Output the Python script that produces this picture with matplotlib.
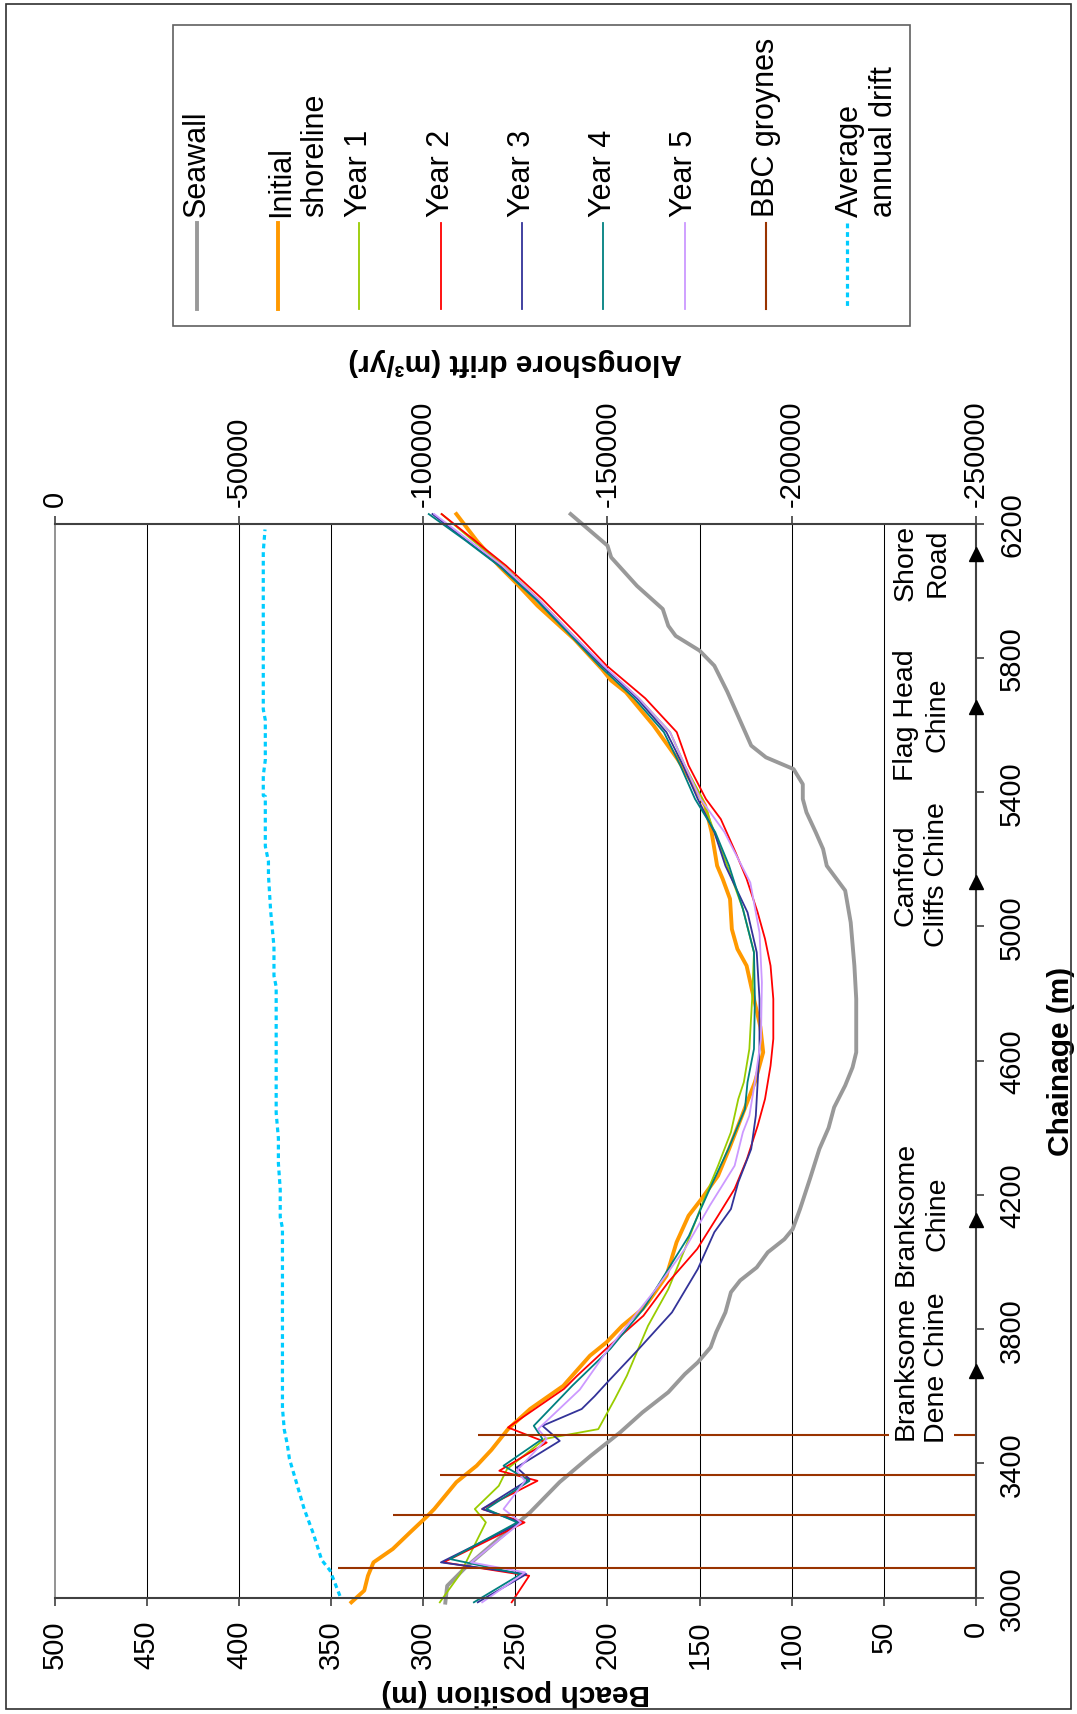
import numpy as np
import matplotlib
matplotlib.use('Agg')
import matplotlib.pyplot as plt
from matplotlib.patches import Rectangle
from matplotlib.ticker import FuncFormatter

plt.rcParams['font.family'] = ['Liberation Sans', 'DejaVu Sans']
plt.rcParams['axes.unicode_minus'] = False

# --- beach position (m) against chainage (m) ---
seawall_ch = [2985, 3035, 3090, 3175, 3254, 3344, 3423, 3493, 3552, 3612, 3666, 3701, 3746, 3791,
              3850, 3910, 3945, 3984, 4029, 4068, 4098, 4158, 4250, 4337, 4400, 4461, 4526, 4580,
              4625, 4784, 4883, 5012, 5107, 5181, 5231, 5281, 5340, 5380, 5424, 5469, 5504, 5539,
              5638, 5700, 5777, 5822, 5866, 5896, 5946, 6015, 6100, 6135, 6229]
seawall = [288, 287, 277, 259, 242, 226, 209, 193, 181, 167, 158, 151, 144, 141,
           136, 133, 128, 119, 113, 104, 99.5, 95.5, 90, 85, 80, 77, 71, 67,
           65, 65, 66, 68, 71, 81, 83, 87, 92, 94, 94, 99, 114, 122,
           130, 135, 142, 150, 163, 167, 170, 184, 198, 200, 220]

initial_ch = [2986, 3021, 3065, 3105, 3145, 3195, 3239, 3264, 3344, 3393, 3440, 3502, 3562, 3631,
              3721, 3761, 3810, 3860, 3880, 3959, 4059, 4138, 4188, 4257, 4337, 4436, 4536, 4565,
              4625, 4700, 4784, 4883, 4933, 4992, 5082, 5142, 5181, 5281, 5360, 5410, 5499, 5599,
              5698, 5733, 5767, 5856, 5956, 6026, 6075, 6100, 6150, 6229]
initial = [339, 332, 330, 327, 316.5, 307, 298.5, 294, 282, 271, 263, 254, 242, 224,
           209.5, 200.5, 192, 181, 178, 168, 162.5, 156, 149, 140, 134, 127, 120, 118.5,
           115.5, 117, 120.5, 124.5, 129.5, 132.5, 133.5, 137.5, 140.5, 143.5, 147, 152, 162, 175,
           190, 198, 203, 218, 238, 250, 259, 263, 271, 282]

year1_ch = [2986, 3070, 3224, 3264, 3333, 3383, 3473, 3502, 3592, 3661, 3810, 3919, 4039, 4168,
            4287, 4387, 4486, 4536, 4635, 4685, 4784, 4923, 5052, 5181, 5281, 5380, 5480, 5579,
            5680, 5777, 5870, 5976, 6075, 6150, 6229]
year1 = [291, 280, 266, 272, 259, 254.5, 234, 205, 196, 189.5, 178, 167, 158, 149,
         140, 133, 129, 126, 123, 122.5, 121.5, 120.5, 126.5, 135, 142, 148.5, 158, 166,
         183, 202.5, 219, 237.5, 256.5, 273, 290]

year2_ch = [2986, 3065, 3105, 3224, 3264, 3348, 3378, 3462, 3507, 3622, 3661, 3741, 3840, 3940,
            4039, 4138, 4218, 4307, 4406, 4486, 4585, 4665, 4784, 4883, 4963, 5042, 5142, 5221,
            5320, 5380, 5480, 5579, 5680, 5777, 5870, 5976, 6075, 6150, 6229]
year2 = [252, 242.5, 289, 245, 268, 238, 258.7, 233, 254, 223.6, 216.5, 200.8, 180.5, 167,
         151.3, 140, 131, 124.3, 118.5, 114.5, 111.5, 110, 110, 111.5, 114.5, 118.5, 124.5, 130.5,
         138.5, 146.6, 156, 162.4, 179.5, 200.4, 216.4, 235.4, 255, 272, 290]

year3_ch = [2986, 3070, 3105, 3224, 3264, 3353, 3388, 3467, 3512, 3562, 3600, 3642, 3741, 3850,
            3979, 4089, 4158, 4238, 4337, 4436, 4635, 4784, 4923, 5042, 5181, 5281, 5380, 5480,
            5579, 5680, 5777, 5870, 5976, 6075, 6150, 6229]
year3 = [270.4, 244, 290.4, 247, 268, 242.3, 249.3, 225.9, 235.3, 214, 207, 200, 183, 165,
         151, 142, 133, 129, 122, 119.5, 117.5, 117.5, 119, 124, 136, 142, 151, 159,
         168, 184, 203, 220, 238.5, 258.5, 276.5, 295]

year4_ch = [2986, 3070, 3115, 3224, 3264, 3348, 3393, 3473, 3512, 3632, 3741, 3860, 3959, 4078,
            4218, 4337, 4456, 4536, 4635, 4784, 4923, 5052, 5181, 5281, 5380, 5480, 5579, 5680,
            5777, 5870, 5976, 6075, 6150, 6229]
year4 = [272.5, 247, 285.5, 249, 265.7, 242.3, 256.4, 235.3, 240, 219, 198.5, 180.5, 169.3, 155.8,
         144.5, 134.4, 125.4, 124, 120.5, 120, 120.5, 126.5, 134, 141.5, 152.5, 160.5, 169.4, 185.5,
         204.4, 220.5, 239.3, 259, 277, 297]

year5_ch = [2986, 3075, 3105, 3224, 3264, 3348, 3378, 3473, 3502, 3620, 3731, 3810, 3919, 4039,
            4168, 4287, 4387, 4436, 4536, 4665, 4834, 4982, 5131, 5281, 5380, 5480, 5579, 5680,
            5777, 5870, 5976, 6075, 6150, 6229]
year5 = [268, 244.7, 274, 247, 256.4, 244.7, 249.3, 233, 237.7, 215, 200.8, 189.5, 173.8, 158,
         144.5, 131, 126.5, 123, 120, 116.7, 116.2, 117.5, 122.5, 136.5, 149.5, 158, 166, 183,
         202, 219, 237.5, 257, 275, 294]

# groyne chainage and crest position
groyne_ch = [3088, 3246, 3365, 3485]
groyne_top = [346.5, 316.5, 291, 270.4]

# --- alongshore drift (m3/yr) ---
drift_ch = [3005, 3081, 3112, 3190, 3264, 3339, 3413, 3458, 3500, 3565, 4101, 4134, 4217, 4294,
            4369, 4444, 4820, 4853, 4940, 5046, 5153, 5194, 5239, 5388, 5390, 5450, 5496, 5615,
            5647, 6118, 6183]
drift = [-77400, -74700, -72450, -70200, -67700, -65700, -63700, -63100, -62300, -61800, -61800,
         -61200, -61200, -60700, -60700, -60100, -60100, -59500, -59500, -58600, -58000, -58000,
         -57150, -57150, -56600, -56600, -57150, -57150, -56600, -56600, -57070]

# chines along the frontage
site_names = ['Branksome\nDene Chine', 'Branksome\nChine', 'Canford\nCliffs Chine',
              'Flag Head\nChine', 'Shore\nRoad']
site_ch = [3676, 4125, 5132, 5653, 6110]
site_label_ch = [3687, 4146, 5157, 5633, 6086]

st = {
    'Seawall': dict(color='#999999', lw=2.8),
    'Initial\nshoreline': dict(color='#ff9900', lw=2.8),
    'Year 1': dict(color='#99cc00', lw=1.3),
    'Year 2': dict(color='#ff0000', lw=1.3),
    'Year 3': dict(color='#333399', lw=1.3),
    'Year 4': dict(color='#008080', lw=1.3),
    'Year 5': dict(color='#cc99ff', lw=1.3),
    'BBC groynes': dict(color='#993300', lw=1.5),
    'Average\nannual drift': dict(color='#00ccff', lw=2.3, ls=(0, (1.5, 1.2)), dash_capstyle='butt'),
}
FS = 21
AXC = '#404040'

fig = plt.figure(figsize=(10.77, 17.15), dpi=100)
ax = fig.add_axes([54.7 / 1077, 1 - 1598.6 / 1715, 921.3 / 1077, 1073.8 / 1715])

for x in range(50, 500, 50):
    ax.axvline(x, color='black', lw=0.75, zorder=0.5)

ax.plot(seawall, seawall_ch, **st['Seawall'], clip_on=False)
ax.plot(initial, initial_ch, **st['Initial\nshoreline'], clip_on=False)
ax.plot(year1, year1_ch, **st['Year 1'], clip_on=False)
ax.plot(year2, year2_ch, **st['Year 2'], clip_on=False)
ax.plot(year3, year3_ch, **st['Year 3'], clip_on=False)
ax.plot(year4, year4_ch, **st['Year 4'], clip_on=False)
ax.plot(year5, year5_ch, **st['Year 5'], clip_on=False)
ax.hlines(groyne_ch, 0, groyne_top, colors=st['BBC groynes']['color'], lw=st['BBC groynes']['lw'])

ax.plot(np.zeros(len(site_ch)), site_ch, '^', color='black', ms=10, clip_on=False, zorder=6)
for name, c in zip(site_names, site_label_ch):
    ax.text(29.5, c, name, rotation=90, ha='center', va='center', multialignment='center',
            fontsize=20.5, linespacing=1.28, zorder=5,
            bbox=dict(facecolor='white', edgecolor='none', pad=2.5))

ax.set_xlim(500, 0)
ax.set_ylim(3000, 6200)
ax.set_xticks(np.arange(0, 501, 50))
ax.set_yticks(np.arange(3000, 6201, 400))
ax.yaxis.tick_right()
ax.tick_params(axis='x', bottom=True, top=False, direction='out', length=6, width=1.2,
               color=AXC, pad=10, labelsize=FS, labelrotation=90)
ax.tick_params(axis='y', right=True, left=False, labelright=True, labelleft=False,
               direction='out', length=6, width=1.2, color=AXC, pad=10, labelsize=FS,
               labelrotation=90)
for t in ax.get_yticklabels():
    t.set_va('center')
for side in ['bottom', 'right']:
    ax.spines[side].set_color(AXC)
    ax.spines[side].set_linewidth(1.5)
ax.spines['left'].set_color('#808080')
ax.spines['left'].set_linewidth(1.2)
ax.spines['top'].set_visible(False)

ax.set_xlabel('Beach position (m)', fontsize=21.5, fontweight='bold', rotation=180,
              ha='center', va='center')
ax.xaxis.set_label_coords(0.5, -0.0875)
ax.set_ylabel('Chainage (m)', fontsize=21.5, fontweight='bold', rotation=90,
              ha='center', va='center')
ax.yaxis.set_label_coords(1.0918, 0.5)

# drift on the secondary axis
ax2 = ax.twiny()
ax2.plot(drift, drift_ch, **st['Average\nannual drift'])
ax2.set_xlim(0, -250000)
ax2.set_xticks(np.arange(0, -250001, -50000))
ax2.xaxis.set_major_formatter(FuncFormatter(lambda v, p: '{:.0f}'.format(v)))
ax2.tick_params(axis='x', top=True, bottom=False, labeltop=True, labelbottom=False,
                direction='out', length=6, width=1.2, color=AXC, pad=7, labelsize=FS,
                labelrotation=90)
for side in ['bottom', 'left', 'right']:
    ax2.spines[side].set_visible(False)
ax2.spines['top'].set_color(AXC)
ax2.spines['top'].set_linewidth(1.5)
ax2.set_xlabel('Alongshore drift (m³/yr)', fontsize=21.5, fontweight='bold', rotation=180,
               ha='center', va='center')
ax2.xaxis.set_label_coords(0.5, 1.1516)

# frame and legend, in pixel units
ov = fig.add_axes([0, 0, 1, 1])
ov.set_xlim(0, 1077)
ov.set_ylim(1715, 0)
ov.axis('off')
ov.add_patch(Rectangle((6, 5), 1065, 1705, fill=False, ec='#303030', lw=1.2))
ov.add_patch(Rectangle((173.3, 26), 736.7, 300.7, fc='white', ec='#606060', lw=1.2))
for i, (label, s) in enumerate(st.items()):
    x = 196.7 + 81.3 * i
    ov.plot([x, x], [224, 310], **s)
    ov.text(x + 20 * label.count('\n'), 216.7, label, rotation=90, rotation_mode='anchor',
            ha='left', va='center', fontsize=22, linespacing=1.2)

fig.savefig('out.png', dpi=100)
